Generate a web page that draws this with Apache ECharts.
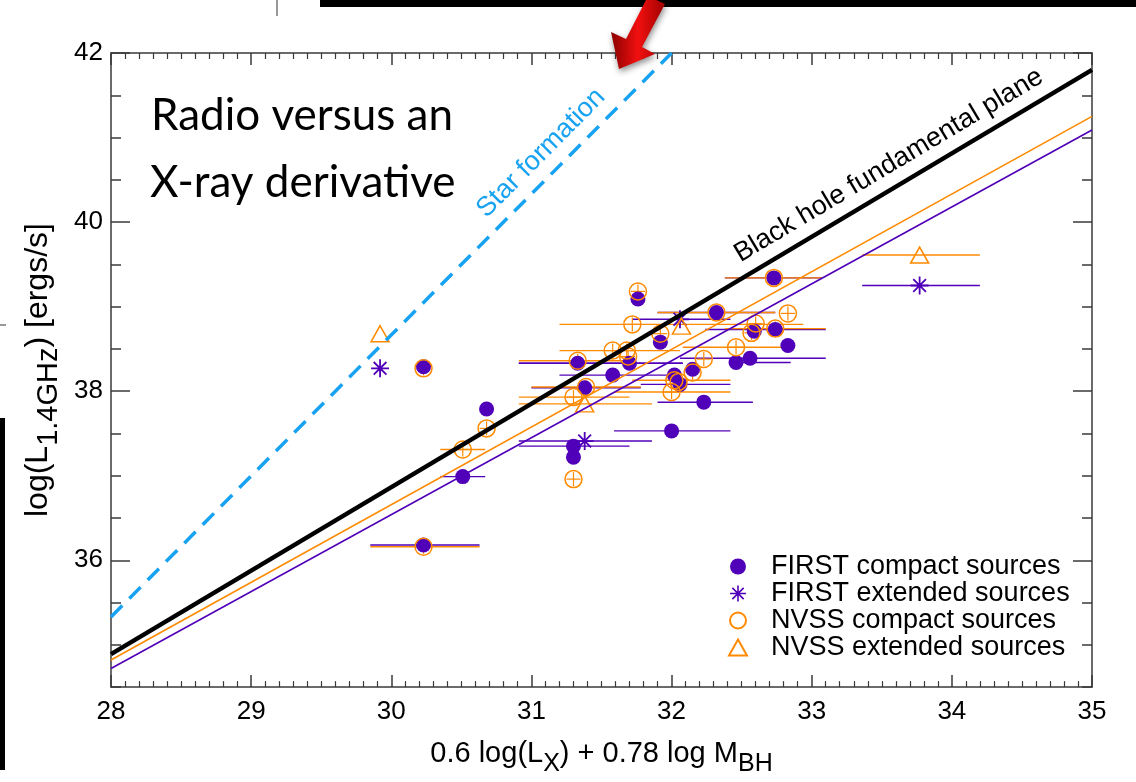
<!DOCTYPE html>
<html><head><meta charset="utf-8">
<script src="https://cdn.jsdelivr.net/npm/echarts@6/dist/echarts.min.js"></script>
<style>html,body{margin:0;padding:0;background:#fff}#c{width:1136px;height:782px}</style>
</head><body><div id="c"></div>
<script>
// ---- tick labels ----
const xMin = 28, xMax = 35, xStep = 1;
const yMin = 34.5, yMax = 42, yStep = 0.5;
const yLabelValues = [36, 38, 40, 42];

// ---- fitted relations (x range and y at the ends) ----
const starX = [28, 32.0];
const starY = [35.33, 42.0];
const fitX = [28, 35];
const bhPlaneY = [34.89, 41.80];
const nvssFitY = [34.82, 41.25];
const firstFitY = [34.72, 41.09];

// ---- FIRST compact sources ----
const fcX  = [30.23, 30.23, 30.68, 30.51, 31.30, 31.30, 31.38, 31.58, 31.33, 31.70, 31.76, 31.92, 32.00, 32.02, 32.06, 32.15, 32.23, 32.32, 32.46, 32.56, 32.59, 32.73, 32.74, 32.83];
const fcY  = [38.29, 36.18, 37.79, 36.99, 37.35, 37.22, 38.04, 38.19, 38.33, 38.33, 39.09, 38.58, 37.53, 38.19, 38.08, 38.26, 37.87, 38.93, 38.34, 38.39, 38.71, 39.34, 38.73, 38.54];
const fcLo = [null, 29.85, null, 30.35, 30.91, null, 31.00, 31.20, 30.91, 30.91, null, null, 31.59, null, 31.78, null, 31.90, 31.90, 32.44, 32.06, null, 32.38, 32.24, null];
const fcHi = [null, 30.63, null, 30.67, 31.70, null, 31.78, 32.06, 32.08, 32.08, null, null, 32.42, null, 32.42, null, 32.58, 32.74, 32.85, 33.10, null, 33.07, 33.10, null];

// ---- FIRST extended sources ----
const feX  = [29.92, 31.38, 32.06, 33.77];
const feY  = [38.27, 37.41, 38.85, 39.25];
const feLo = [null, 30.91, 31.72, 33.36];
const feHi = [null, 31.86, 32.42, 34.20];

// ---- NVSS compact sources ----
const ncX  = [31.76, 31.72, 31.92, 31.58, 31.68, 31.69, 31.33, 32.23, 32.15, 32.02, 32.05, 32.00, 31.39, 31.30, 30.68, 30.51, 31.30, 32.46, 32.60, 32.57, 32.74, 32.83, 32.32, 32.73, 30.23, 30.23];
const ncY  = [39.18, 38.79, 38.68, 38.48, 38.48, 38.41, 38.36, 38.38, 38.22, 38.13, 38.11, 37.99, 38.05, 37.93, 37.56, 37.31, 36.96, 38.52, 38.80, 38.69, 38.74, 38.92, 38.93, 39.34, 38.27, 36.16];
const ncLo = [null, 31.20, null, 31.20, null, null, 30.91, null, null, 31.72, null, 31.59, 31.00, 30.91, null, 30.35, null, 32.08, null, null, 32.38, null, 31.90, 32.38, null, 29.85];
const ncHi = [null, 32.94, null, 32.06, null, null, 31.73, null, null, 32.42, null, 32.42, 31.78, 31.70, null, 30.67, null, 32.85, null, null, 33.10, null, 32.74, 33.07, null, 30.63];

// ---- NVSS extended sources ----
const neX  = [29.92, 32.07, 31.38, 33.77];
const neY  = [38.68, 38.77, 37.85, 39.61];
const neLo = [null, null, 30.91, 33.36];
const neHi = [null, null, 31.86, 34.20];

const seriesNames = ['FIRST compact sources', 'FIRST extended sources', 'NVSS compact sources', 'NVSS extended sources'];
const lineLabelTexts = ['Star formation', 'Black hole fundamental plane'];
const lineLabelAtX = [31.18, 33.63];

const PURPLE = '#5000b8', ORANGE = '#ff8a00', BLUE = '#18a2f2';
const FONT = '"Liberation Sans", Arial, Helvetica, sans-serif';
const ASTERISK = 'path://M9 0L11 0L11 20L9 20ZM0 9L20 9L20 11L0 11ZM2.22 3.64L3.64 2.22L17.78 16.36L16.36 17.78ZM16.36 2.22L17.78 3.64L3.64 17.78L2.22 16.36Z';

const pts = (xs, ys) => xs.map((x, i) => [x, ys[i]]);
const bars = [];
function addBars(lo, hi, ys, c) { lo.forEach((l, i) => { if (l != null) bars.push([l, hi[i], ys[i], c]); }); }
addBars(fcLo, fcHi, fcY, 0); addBars(feLo, feHi, feY, 0);
addBars(ncLo, ncHi, ncY, 1); addBars(neLo, neHi, neY, 1);

const yMinorValues = []; for (let v = yMin; v <= yMax + 1e-9; v += yStep) yMinorValues.push(+v.toFixed(2));

const axisLineStyle = { color: '#3a3a3a', width: 1.5 };
function xAx(pos, withLabels) {
  return {
    type: 'value', min: xMin, max: xMax, interval: xStep, position: pos,
    axisLine: { show: true, lineStyle: axisLineStyle, onZero: false },
    axisTick: { show: true, inside: true, length: 12, lineStyle: axisLineStyle },
    minorTick: { show: true, splitNumber: 10, length: 6, lineStyle: { color: '#3a3a3a', width: 1.2 } },
    splitLine: { show: false },
    axisLabel: { show: withLabels, margin: 12, fontSize: 26, color: '#000', fontFamily: FONT },
    name: withLabels ? '{m|0.6 log(L}{s|X}{m|) + 0.78 log M}{s|BH}' : '',
    nameLocation: 'middle', nameGap: 29,
    nameTextStyle: { rich: {
      m: { fontSize: 29, fontFamily: FONT, color: '#000', lineHeight: 29 },
      s: { fontSize: 25, fontFamily: FONT, color: '#000', lineHeight: 25, padding: [22, 0, 0, 0] }
    } }
  };
}
function yAx(pos, major, withLabels) {
  return {
    type: 'value', min: yMin, max: yMax, interval: yStep, position: pos,
    axisLine: { show: !major, lineStyle: axisLineStyle, onZero: false },
    axisTick: { show: true, inside: true, length: major ? 19 : 10, lineStyle: axisLineStyle,
                customValues: major ? yLabelValues : yMinorValues },
    splitLine: { show: false },
    axisLabel: { show: withLabels, customValues: yLabelValues, margin: 8, fontSize: 26, color: '#000', fontFamily: FONT },
    name: withLabels ? '{m|log(L}{s|1.4GHz}{m|) [ergs/s]}' : '',
    nameLocation: 'middle', nameGap: 42,
    nameTextStyle: { rich: {
      m: { fontSize: 32, fontFamily: FONT, color: '#000', lineHeight: 32 },
      s: { fontSize: 29, fontFamily: FONT, color: '#000', lineHeight: 29, padding: [22, 0, 0, 0] }
    } }
  };
}

const chart = echarts.init(document.getElementById('c'), null, { renderer: 'canvas' });
const option = {
  animation: false,
  backgroundColor: '#fff',
  grid: { left: 111, right: 44, top: 53, bottom: 88 },
  xAxis: [xAx('bottom', true), xAx('top', false)],
  yAxis: [yAx('left', false, true), yAx('left', true, false), yAx('right', false, false), yAx('right', true, false)],
  legend: {
    orient: 'vertical', left: 728, top: 553, padding: 0, itemGap: 0,
    itemWidth: 18, itemHeight: 16,
    textStyle: { fontSize: 27, fontFamily: FONT, color: '#000', lineHeight: 25.5, padding: [0, 0, 0, 19] },
    data: seriesNames
  },
  series: [
    { type: 'line', data: pts(starX, starY), symbol: 'none', silent: true, clip: true,
      lineStyle: { color: BLUE, width: 3.5, type: [16, 10] } },
    { type: 'line', data: pts(fitX, bhPlaneY), symbol: 'none', silent: true,
      lineStyle: { color: '#000', width: 4.5 } },
    { type: 'line', data: pts(fitX, nvssFitY), symbol: 'none', silent: true,
      lineStyle: { color: ORANGE, width: 1.6 } },
    { type: 'line', data: pts(fitX, firstFitY), symbol: 'none', silent: true,
      lineStyle: { color: PURPLE, width: 1.6 } },
    { type: 'custom', data: bars, clip: true, silent: true,
      renderItem: function (params, api) {
        const y = api.value(2);
        const a = api.coord([api.value(0), y]), b = api.coord([api.value(1), y]);
        return { type: 'line', shape: { x1: a[0], y1: a[1], x2: b[0], y2: b[1] },
                 style: { stroke: api.value(3) === 0 ? PURPLE : ORANGE, lineWidth: 1.4 } };
      } },
    { name: seriesNames[0], type: 'scatter', data: pts(fcX, fcY), symbol: 'circle', symbolSize: 15,
      itemStyle: { color: PURPLE, opacity: 1 } },
    { name: seriesNames[1], type: 'scatter', data: pts(feX, feY), symbol: ASTERISK, symbolSize: 18,
      itemStyle: { color: PURPLE, opacity: 1 } },
    { name: seriesNames[2], type: 'scatter', data: pts(ncX, ncY), symbol: 'circle', symbolSize: 17,
      itemStyle: { color: 'rgba(0,0,0,0)', borderColor: ORANGE, borderWidth: 1.5, opacity: 1 } },
    { name: seriesNames[3], type: 'scatter', data: pts(neX, neY), symbol: 'triangle', symbolSize: [18, 16],
      itemStyle: { color: 'rgba(0,0,0,0)', borderColor: ORANGE, borderWidth: 1.5, opacity: 1 } },
    { type: 'custom', data: pts(ncX, ncY), clip: true, silent: true,
      renderItem: function (params, api) {
        const p = api.coord([api.value(0), api.value(1)]);
        const st = { stroke: ORANGE, lineWidth: 1.2 };
        return { type: 'group', children: [
          { type: 'line', shape: { x1: p[0] - 7, y1: p[1], x2: p[0] + 7, y2: p[1] }, style: st },
          { type: 'line', shape: { x1: p[0], y1: p[1] - 7, x2: p[0], y2: p[1] + 7 }, style: st }
        ] };
      } }
  ]
};
chart.setOption(option);

// ---- annotations: text along the lines, title, and page decorations ----
function toPx(x, y) { return chart.convertToPixel({ xAxisIndex: 0, yAxisIndex: 0 }, [x, y]); }
function lineLabel(xs, ys, atX, text, color) {
  const p1 = toPx(xs[0], ys[0]), p2 = toPx(xs[1], ys[1]);
  const dx = p2[0] - p1[0], dy = p2[1] - p1[1], len = Math.hypot(dx, dy);
  const t = (atX - xs[0]) / (xs[1] - xs[0]);
  const p = toPx(atX, ys[0] + t * (ys[1] - ys[0]));
  const nx = dy / len, ny = -dx / len;
  return { type: 'text', x: p[0] + nx * 22, y: p[1] + ny * 22, rotation: -Math.atan2(dy, dx), z: 10,
           style: { text: text, fill: color, font: '27px ' + FONT, align: 'center', verticalAlign: 'middle' } };
}
const arrowPts = [[648, -4], [665, 4], [642, 47], [655, 54], [619, 69], [611, 32], [626, 39]];
chart.setOption({
  graphic: [
    lineLabel(starX, starY, lineLabelAtX[0], lineLabelTexts[0], BLUE),
    lineLabel(fitX, bhPlaneY, lineLabelAtX[1], lineLabelTexts[1], '#000'),
    { type: 'text', x: 151, y: 116, z: 10, style: { text: 'Radio versus an', fill: '#000', font: '44px Lato, "Open Sans", sans-serif', verticalAlign: 'middle' } },
    { type: 'text', x: 150, y: 183, z: 10, style: { text: 'X-ray derivative', fill: '#000', font: '44px Lato, "Open Sans", sans-serif', verticalAlign: 'middle' } },
    { type: 'rect', shape: { x: 320, y: 0, width: 816, height: 7 }, style: { fill: '#000' }, z: 20 },
    { type: 'line', shape: { x1: 277, y1: 0, x2: 277, y2: 16 }, style: { stroke: '#333', lineWidth: 1 }, z: 20 },
    { type: 'rect', shape: { x: 0, y: 418, width: 5, height: 352 }, style: { fill: '#000' }, z: 20 },
    { type: 'line', shape: { x1: 0, y1: 325, x2: 6, y2: 325 }, style: { stroke: '#333', lineWidth: 1 }, z: 20 },
    { type: 'polygon', shape: { points: arrowPts }, z: 30,
      style: { fill: new echarts.graphic.LinearGradient(0, 0, 1, 0, [{ offset: 0, color: '#8a0000' }, { offset: 0.5, color: '#f21010' }, { offset: 1, color: '#a00000' }]),
               shadowBlur: 6, shadowColor: 'rgba(0,0,0,0.45)', shadowOffsetX: 1, shadowOffsetY: 3 } }
  ]
});
</script>
</body></html>
